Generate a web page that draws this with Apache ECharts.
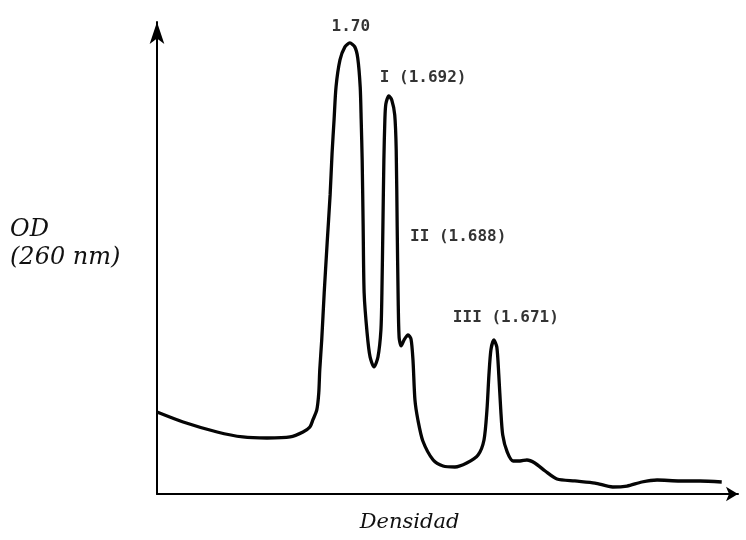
<!DOCTYPE html>
<html>
<head>
<meta charset="utf-8">
<script src="https://cdn.jsdelivr.net/npm/echarts@6/dist/echarts.min.js"></script>
<style>
html,body{margin:0;padding:0;background:#fff;}
#chart{width:746px;height:540px;}
</style>
</head>
<body>
<div id="chart"></div>
<script>
// Density (g/cm3) along the gradient and optical density (arbitrary units)
const density = [1.7390,1.7337,1.7268,1.7216,1.7167,1.7120,1.7094,1.7080,1.7074,1.7066,
  1.7062,1.7060,1.7056,1.7051,1.7045,1.7039,1.7035,1.7031,1.7027,1.7019,
  1.7009,1.6999,1.6989,1.6983,1.6978,1.6976,1.6974,1.6972,1.6970,1.6964,
  1.6958,1.6950,1.6942,1.6936,1.6934,1.6932,1.6930,1.6928,1.6926,1.6920,
  1.6914,1.6908,1.6905,1.6903,1.6901,1.6899,1.6895,1.6889,1.6881,1.6875,
  1.6871,1.6867,1.6861,1.6851,1.6830,1.6810,1.6786,1.6762,1.6739,1.6727,
  1.6721,1.6717,1.6713,1.6707,1.6701,1.6697,1.6693,1.6689,1.6680,1.6668,
  1.6654,1.6640,1.6624,1.6603,1.6579,1.6543,1.6502,1.6466,1.6437,1.6407,
  1.6376,1.6330,1.6289,1.6245];
const od = [16.94,14.88,12.81,11.78,11.57,11.78,12.81,13.84,15.29,17.36,
  20.87,25.62,31.82,41.53,51.86,61.78,70.45,77.27,84.09,89.67,
  92.36,93.18,92.36,90.08,84.09,77.27,69.01,55.17,41.53,33.26,
  28.31,26.24,28.31,33.88,41.53,55.17,69.01,77.27,80.58,82.23,
  81.40,78.31,71.07,55.17,40.08,32.23,30.58,31.82,32.85,32.02,
  27.69,19.42,15.29,10.95,7.02,5.79,5.58,6.40,8.06,11.16,
  17.36,24.59,29.75,31.82,30.37,24.59,17.36,12.19,8.68,6.82,
  6.82,7.02,6.40,4.75,3.10,2.69,2.27,1.45,1.65,2.48,
  2.89,2.69,2.69,2.48];

// Peak annotations
const peakNames = ['1.70', 'I (1.692)', 'II (1.688)', 'III (1.671)'];
const peakDensity = [1.6999, 1.6920, 1.6881, 1.6707];
const peakOD = [93.18, 82.23, 32.85, 31.82];

// Axis titles
const xTitle = 'Densidad';
const yTitle = 'OD\n(260 nm)';

// Label placement (style only)
const labelAlign = ['center', 'left', 'left', 'left'];
const labelOffset = [[1, -16], [-9, -18], [2, -98], [-41, -22]];

const chart = echarts.init(document.getElementById('chart'), null, {renderer: 'canvas'});

const curve = density.map((d, i) => [d, od[i]]);
const peaks = peakNames.map((n, i) => ({
  name: n,
  value: [peakDensity[i], peakOD[i]],
  label: {align: labelAlign[i], offset: labelOffset[i]}
}));

const serifItalic = {fontFamily: 'DejaVu Serif', fontStyle: 'italic', color: '#111'};

chart.setOption({
  animation: false,
  backgroundColor: '#fff',
  grid: {left: 157, right: 8, top: 22, bottom: 46},
  xAxis: {
    type: 'value',
    inverse: true,
    min: 1.6212,
    max: 1.739,
    name: xTitle,
    nameLocation: 'middle',
    nameGap: 18,
    nameTextStyle: Object.assign({fontSize: 21, padding: [0, 76, 0, 0]}, serifItalic),
    axisLine: {show: true, lineStyle: {color: '#000', width: 2}, symbol: ['none', 'arrow'], symbolSize: [11, 12]},
    axisTick: {show: false},
    axisLabel: {show: false},
    splitLine: {show: false}
  },
  yAxis: {
    type: 'value',
    min: 0,
    max: 97.5,
    name: yTitle + '\n',
    nameLocation: 'middle',
    nameRotate: 0,
    nameGap: 147,
    nameTextStyle: Object.assign({fontSize: 24, lineHeight: 28, align: 'left', verticalAlign: 'middle'}, serifItalic),
    axisLine: {show: true, lineStyle: {color: '#000', width: 2}, symbol: ['none', 'arrow'], symbolSize: [11, 22]},
    axisTick: {show: false},
    axisLabel: {show: false},
    splitLine: {show: false}
  },
  series: [
    {
      type: 'line',
      data: curve,
      smooth: 0.25,
      showSymbol: false,
      lineStyle: {color: '#050505', width: 3.3},
      silent: true
    },
    {
      type: 'scatter',
      data: peaks,
      symbolSize: 0,
      silent: true,
      label: {
        show: true,
        position: 'inside',
        formatter: p => p.name,
        fontFamily: 'DejaVu Sans Mono',
        fontWeight: 'bold',
        fontSize: 16,
        color: '#000',
        verticalAlign: 'middle'
      }
    }
  ]
});
</script>
</body>
</html>
